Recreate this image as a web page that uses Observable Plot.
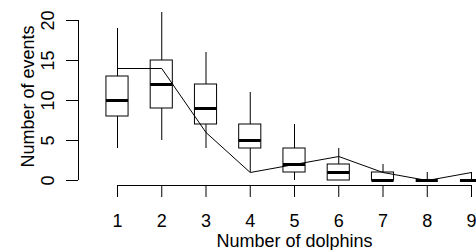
<!DOCTYPE html>
<html>
<head>
<meta charset="utf-8">
<script src="https://cdn.jsdelivr.net/npm/d3@7"></script>
<script src="https://cdn.jsdelivr.net/npm/@observablehq/plot@0.6"></script>
<style>
  html, body { margin: 0; padding: 0; background: white; }
</style>
</head>
<body>
<div id="chart"></div>
<script>
const dolphins    = [1, 2, 3, 4, 5, 6, 7, 8, 9];
const whiskerLow  = [4, 5, 4, 1, 0, 0, 0, 0, 0];
const q1          = [8, 9, 7, 4, 1, 0, 0, 0, 0];
const median      = [10, 12, 9, 5, 2, 1, 0, 0, 0];
const q3          = [13, 15, 12, 7, 4, 2, 1, 0, 0];
const whiskerHigh = [19, 21, 16, 11, 7, 4, 2, 1, 1];
const lineValues  = [14, 14, 6, 1, 2, 3, 1, 0, 1];
const yTicks      = [0, 5, 10, 15, 20];
const xTitle = "Number of dolphins";
const yTitle = "Number of events";

const rows = dolphins.map((n, i) => ({
  n, lo: whiskerLow[i], q1: q1[i], med: median[i], q3: q3[i], hi: whiskerHigh[i], line: lineValues[i]
}));

const half = 0.25;
const xMid = (d3.min(dolphins) + d3.max(dolphins)) / 2;
const yMid = (0 + d3.max(whiskerHigh)) / 2;
const font = "Liberation Sans, Arial, Helvetica, sans-serif";

const chart = Plot.plot({
  width: 476,
  height: 250,
  marginLeft: 78,
  marginRight: 5,
  marginTop: 20,
  marginBottom: 65,
  x: {type: "linear", domain: [d3.min(dolphins), d3.max(dolphins)], insetLeft: 39},
  y: {domain: [yTicks[0], yTicks[yTicks.length - 1]], insetBottom: 5},
  style: {fontFamily: font, fontSize: "18px", background: "white", color: "black"},
  marks: [
    // axis lines
    Plot.ruleX([d3.min(dolphins)], {y1: yTicks[0], y2: yTicks[yTicks.length - 1], dx: -39, stroke: "black"}),
    Plot.ruleY([yTicks[0]], {x1: d3.min(dolphins), x2: d3.max(dolphins), dy: 5, stroke: "black"}),
    // y ticks
    Plot.axisY({ticks: yTicks, tickSize: 12, tickFormat: () => "", label: null, stroke: "black"}),
    Plot.text(yTicks, {y: d => d, text: d => String(d), frameAnchor: "left", rotate: -90, dx: -25,
      lineAnchor: "bottom", textAnchor: "middle", fontSize: 18, fill: "black"}),
    // x axis
    Plot.axisX({ticks: dolphins, tickSize: 12, tickPadding: 17, tickFormat: d => String(d),
      label: null, fontSize: 18, stroke: "black"}),
    // whiskers
    Plot.ruleX(rows, {x: "n", y1: "q3", y2: "hi", stroke: "black", strokeWidth: 1}),
    Plot.ruleX(rows, {x: "n", y1: "lo", y2: "q1", stroke: "black", strokeWidth: 1}),
    // boxes
    Plot.rect(rows, {x1: d => d.n - half, x2: d => d.n + half, y1: "q1", y2: "q3",
      fill: "none", stroke: "black", strokeWidth: 1}),
    // medians
    Plot.ruleY(rows, {y: "med", x1: d => d.n - half, x2: d => d.n + half, stroke: "black", strokeWidth: 3}),
    // line
    Plot.line(rows, {x: "n", y: "line", stroke: "black", strokeWidth: 1}),
    // titles
    Plot.text([yTitle], {y: () => yMid, text: d => d, frameAnchor: "left", rotate: -90, dx: -45,
      lineAnchor: "bottom", textAnchor: "middle", fontSize: 18, fill: "black"}),
    Plot.text([xTitle], {x: () => xMid, text: d => d, frameAnchor: "bottom", dy: 61,
      lineAnchor: "bottom", textAnchor: "middle", fontSize: 18, fill: "black"})
  ]
});
document.getElementById("chart").appendChild(chart);
</script>
</body>
</html>
